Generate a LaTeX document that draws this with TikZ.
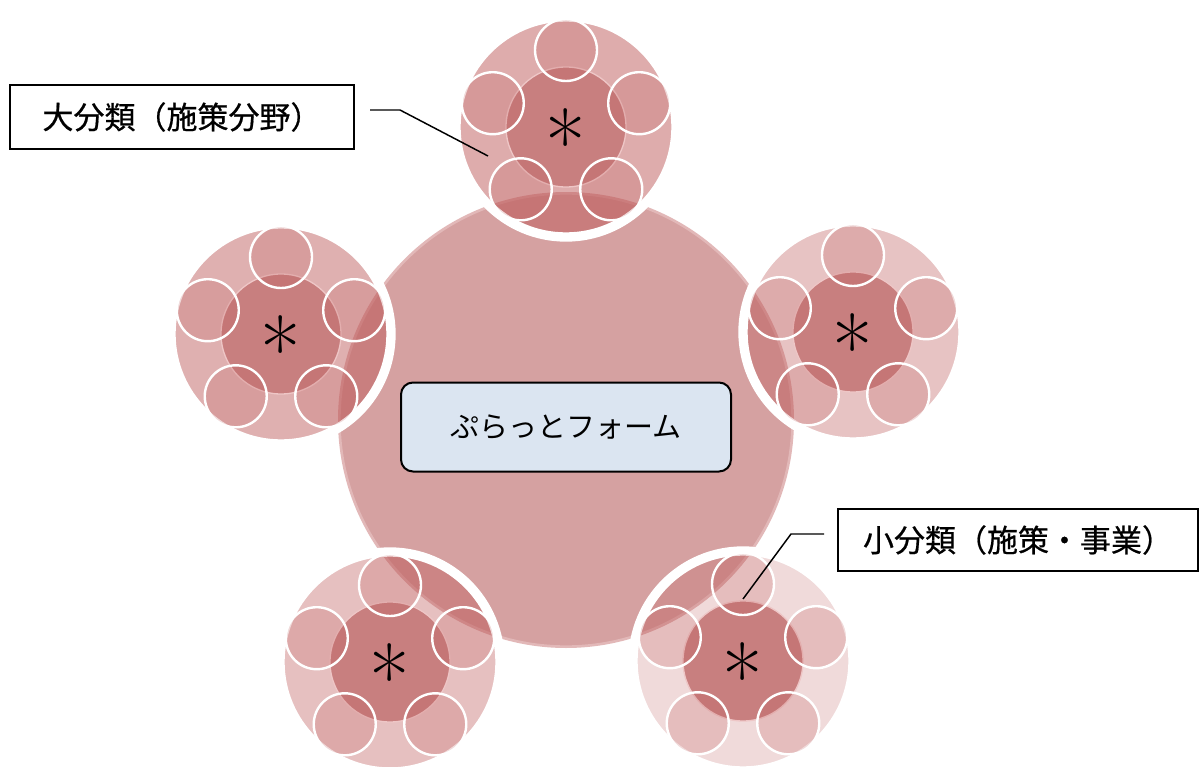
\documentclass[tikz,border=0pt]{standalone}
\usepackage{fontspec}
\newfontfamily\jp{Noto Sans CJK JP}
\newfontfamily\jpb{Noto Sans CJK JP}[FakeBold=0.6]
\definecolor{bigcol}{RGB}{213,161,161}
\definecolor{bigedge}{RGB}{226,184,184}
\definecolor{base}{RGB}{190,90,90}
\definecolor{innercol}{RGB}{200,127,127}
\definecolor{inneredge}{RGB}{238,198,198}
\definecolor{boxblue}{RGB}{219,229,241}
\begin{document}
\begin{tikzpicture}[x=0.75pt,y=-0.75pt]
\tikzset{
  bigc/.style={circle,inner sep=0pt,minimum size=340pt,fill=bigcol,draw=bigedge,line width=2pt},
  outerc/.style={circle,inner sep=0pt,minimum size=165pt,fill=base,fill opacity=#1,draw=white,draw opacity=1,line width=7pt},
  innerc/.style={circle,inner sep=0pt,minimum size=90pt,fill=innercol,draw=inneredge,line width=1pt},
  smallc/.style={circle,inner sep=0pt,minimum size=46.5pt,fill=base,fill opacity=0.22,draw=white,draw opacity=1,line width=1.8pt},
  astx/.style={font=\fontsize{66}{66}\selectfont\addfontfeatures{FakeBold=1.6},inner sep=0pt,text=black,anchor=base},
  labelbox/.style={draw=black,fill=white,line width=1pt,inner sep=0pt,font=\jpb\fontsize{23.25}{23.25}\selectfont},
  platbox/.style={draw=black,fill=boxblue,line width=1.5pt,rounded corners=9pt,inner sep=0pt,font=\jp\fontsize{21.75}{21.75}\selectfont},
  leader/.style={draw=black,line width=1.1pt}
}
\useasboundingbox (0,0) rectangle (1204,767);
\fill[white] (0,0) rectangle (1204,767);
% central circle
\node[bigc] (center) at (566,420) {};
% clusters
\foreach \n/\cx/\cy/\op in {T/566/127/0.5, L/281/334/0.48, R/853/332/0.36, BL/390/662/0.38, BR/743/661/0.22}{
  \node[outerc=\op] (\n) at (\cx,\cy) {};
  \node[innerc] (\n-in) at (\n) {};
  \foreach \a in {-90,-18,54,126,198}{
    \path (\n) ++(\a:77) node[smallc] (\n-s\a) {};
  }
  \path (\n) ++(0,47) node[astx] (\n-ast) {*};
}
% central label
\node[platbox,minimum width=247.5pt,minimum height=66.75pt] (plat) at (566,427) {ぷらっとフォーム};
% labels
\node[labelbox,minimum width=258pt,minimum height=48pt] (big) at (182,117) {大分類（施策分野）};
\node[labelbox,minimum width=270pt,minimum height=46.5pt] (small) at (1018,540) {小分類（施策・事業）};
% leaders
\coordinate (ba) at (370,110);
\coordinate (bb) at (400,110);
\coordinate (bc) at (488,156);
\draw[leader] (ba) -- (bb) -- (bc);
\coordinate (sa) at (824,534);
\coordinate (sb) at (791,534);
\coordinate (sc) at (743,599);
\draw[leader] (sa) -- (sb) -- (sc);
\end{tikzpicture}
\end{document}
